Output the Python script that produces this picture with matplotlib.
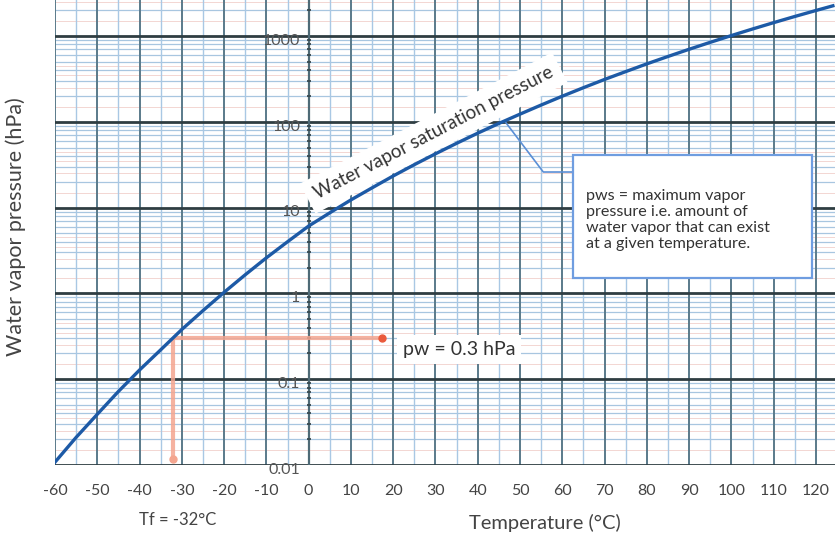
import numpy as np
import matplotlib
matplotlib.use("Agg")
import matplotlib.pyplot as plt
from matplotlib.patches import Rectangle

plt.rcParams['font.family'] = ['Lato', 'DejaVu Sans']

# Saturation curve (temperature °C, pressure hPa)
temps = [-60, -55, -50, -45, -40, -35, -30, -25, -20, -15, -10, -5, 0, 5, 10, 15,
         20, 25, 30, 35, 40, 45, 50, 55, 60, 65, 70, 75, 80, 85, 90, 95, 100,
         105, 110, 115, 120, 124]
pws = [0.0108, 0.021, 0.039, 0.072, 0.128, 0.22, 0.38, 0.63, 1.03, 1.65, 2.6,
       4.0, 6.1, 8.7, 12.3, 17.0, 23.4, 31.7, 42.4, 56.2, 73.8, 95.8, 123, 157,
       199, 250, 312, 385, 474, 578, 701, 845, 1013, 1208, 1433, 1691, 1985, 2250]

x_ticks = [-60, -50, -40, -30, -20, -10, 0, 10, 20, 30, 40, 50, 60, 70, 80, 90,
           100, 110, 120]
y_decades = [0.01, 0.1, 1, 10, 100, 1000]
y_labels = ["0.01", "0.1", "1", "10", "100", "1000"]

tf_temp = -32
pw_value = 0.3
pw_marker_temp = 17.3
tf_marker_p = 0.0117

W, H = 835, 536
fig = plt.figure(figsize=(W / 100, H / 100), dpi=100)
ax = fig.add_axes([55 / W, (H - 465) / H, 780 / W, 465 / H])
ax.set_yscale('log')
ax.set_xlim(-60, 124.5)
ax.set_ylim(0.01, 2630)
for s in ax.spines.values():
    s.set_visible(False)

# graph-paper grid
for d in [0.01, 0.1, 1, 10, 100, 1000]:
    for m in range(2, 10):
        ax.axhline(d * m, color='#a8c6e0', lw=0.9, zorder=1)
for d in [0.01, 0.1, 1, 10, 100, 1000]:
    for m in [1.5, 2.5, 3.5, 4.5]:
        ax.axhline(d * m, color='#f3d6d2', lw=0.7, zorder=0)
for xv in range(-55, 125, 10):
    ax.axvline(xv, color='#a9c8e4', lw=1.0, zorder=1)
for xv in x_ticks:
    ax.axvline(xv, color='#5a7a8a', lw=1.4, zorder=2)
for yv in y_decades:
    ax.axhline(yv, color='#2f3d42', lw=2.0, zorder=3)

# y axis at x=0 with minor tick dots
ax.axvline(0, color='#4e6a76', lw=1.6, zorder=3)
minor_y = [d * m for d in [0.01, 0.1, 1, 10, 100, 1000] for m in range(2, 10)]
minor_y = [v for v in minor_y if v < 2630]
ax.plot([0] * len(minor_y), minor_y, ls='none', marker='_', ms=3, mew=1.3,
        color='#3a4a50', zorder=4)

# y tick labels (placed next to x=0)
for yv, lab in zip(y_decades, y_labels):
    ax.annotate(lab, (0, yv), xytext=(-6, -3.5), textcoords='offset points',
                ha='right', va='center', fontsize=11.5, color='#555555', zorder=6)

# x tick labels
ax.set_xticks(x_ticks)
ax.set_xticklabels([str(v) for v in x_ticks])
ax.tick_params(axis='x', length=0, pad=13.5, labelsize=11.5, labelcolor='#444444')
ax.set_yticks([])
ax.set_yticks([], minor=True)

# curve
ax.plot(temps, pws, color='#1d5aa6', lw=2.4, zorder=7)

# dew point construction
ax.plot([tf_temp, tf_temp], [tf_marker_p, pw_value], color='#f4a58f', lw=3,
        alpha=0.85, zorder=5, solid_capstyle='butt')
ax.plot([tf_temp, pw_marker_temp], [pw_value, pw_value], color='#f4a58f', lw=3,
        alpha=0.85, zorder=5, solid_capstyle='butt')
ax.plot([pw_marker_temp], [pw_value], 'o', color='#ea5a3c', ms=5, zorder=6)
ax.plot([tf_temp], [tf_marker_p], 'o', color='#f4a58f', ms=5, zorder=6)

ax.text(22.3, 0.22, "pw = 0.3 hPa", fontsize=14, color='#333333', ha='left',
        va='center', zorder=8,
        bbox=dict(boxstyle='square,pad=0.3', fc='white', ec='none'))

# rotated curve label
ax.text(29.6, 74, "Water vapor saturation pressure", rotation=27.5,
        rotation_mode='anchor', fontsize=13.5, color='#333333', ha='center',
        va='center', zorder=8,
        bbox=dict(boxstyle='square,pad=0.45', fc='white', ec='none'))

# callout
ax.plot([46.5, 55.5, 62.5], [100, 26, 26], color='#5b8fd6', lw=1.2, zorder=6)
fig.patches.append(Rectangle((573 / W, 1 - 278 / H), 239 / W, 123 / H,
                             transform=fig.transFigure, fc='white',
                             ec='#6f9de0', lw=1.6, zorder=8))
fig.text(586 / W, 1 - 220 / H,
         "pws = maximum vapor\npressure i.e. amount of\nwater vapor that can exist\nat a given temperature.",
         fontsize=11.6, color='#333333', ha='left', va='center', zorder=9,
         linespacing=1.18)

# axis labels
fig.text(16 / W, 1 - 227 / H, "Water vapor pressure (hPa)", rotation=90,
         ha='center', va='center', fontsize=15.5, color='#444444')
fig.text(545 / W, 1 - 523 / H, "Temperature (°C)", ha='center', va='center',
         fontsize=14.5, color='#444444')
fig.text(178 / W, 1 - 520 / H, "Tf = -32°C", ha='center', va='center',
         fontsize=12, color='#444444')

fig.savefig("out.png", dpi=100)
